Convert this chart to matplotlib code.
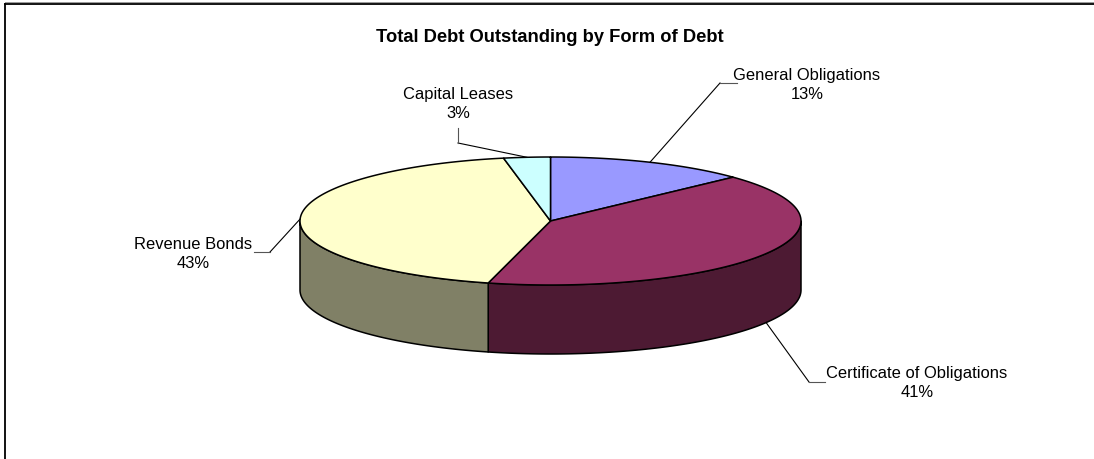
import numpy as np
import matplotlib
matplotlib.use("Agg")
import matplotlib.pyplot as plt
from matplotlib.patches import Polygon

plt.rcParams['font.family'] = ['Liberation Sans', 'DejaVu Sans']

# Debt by form, percent of total
labels = ['General Obligations', 'Certificate of Obligations', 'Revenue Bonds', 'Capital Leases']
shares = [13, 41, 43, 3]
top_colors = ['#9999FF', '#993366', '#FFFFCC', '#CCFFFF']
side_colors = ['#4D4D80', '#4D1A33', '#808066', '#668080']

W, H = 1094, 460
fig = plt.figure(figsize=(W / 100, H / 100), dpi=100)
ax = fig.add_axes([0, 0, 1, 1])
ax.set_xlim(0, W)
ax.set_ylim(H, 0)
ax.axis('off')

# ellipse geometry (pixel space, y grows downward)
cx, cy, a, b, depth = 550.5, 222.0, 250.5, 64.0, 69.0


def rim(t_deg, drop=0.0):
    t = np.radians(t_deg)
    return cx + a * np.cos(t), cy - b * np.sin(t) + drop


# slice boundaries: clockwise from 12 o'clock
cum = np.concatenate([[0], np.cumsum(shares)]) / sum(shares) * 360.0
t_start = 90.0 - cum[:-1]
t_end = 90.0 - cum[1:]

# side walls (only the front half, sin(t) < 0)
for i in range(len(shares)):
    lo, hi = t_end[i], t_start[i]
    # front half corresponds to t in (-180, 0) modulo 360
    for k in (-360, 0):
        s, e = max(lo, -180 + k), min(hi, 0 + k)
        if e <= s:
            continue
        ts = np.linspace(s, e, 120)
        xs, ys = rim(ts)
        xb, yb = rim(ts[::-1], depth)
        pts = np.column_stack([np.concatenate([xs, xb]), np.concatenate([ys, yb])])
        ax.add_patch(Polygon(pts, closed=True, facecolor=side_colors[i],
                             edgecolor='black', linewidth=1.1, joinstyle='round'))

# top faces
for i in range(len(shares)):
    ts = np.linspace(t_start[i], t_end[i], 200)
    xs, ys = rim(ts)
    pts = np.column_stack([np.concatenate([[cx], xs]), np.concatenate([[cy], ys])])
    ax.add_patch(Polygon(pts, closed=True, facecolor=top_colors[i],
                         edgecolor='black', linewidth=1.1, joinstyle='round'))

# labels with leader lines: text centre, elbow point, end of short tail
label_pos = [(807, 85), (917, 383), (193, 254), (458, 104)]
elbows = [((720, 84), (737, 84)), ((809, 383), (825, 383)),
          ((270, 253), (254, 253)), ((458, 144), (458, 129))]

for i in range(len(shares)):
    tm = 90.0 - (cum[i] + cum[i + 1]) / 2
    drop = depth if np.sin(np.radians(tm)) < 0 else 0.0
    ax0, ay0 = rim(tm, drop)
    (ex, ey), (fx, fy) = elbows[i]
    ax.plot([ax0, ex], [ay0, ey], color='black', linewidth=0.8)
    ax.plot([ex, fx], [ey, fy], color='#555555', linewidth=0.8)
    tx, ty = label_pos[i]
    ax.text(tx, ty, f"{labels[i]}\n{shares[i]}%", ha='center', va='center',
            fontsize=11.9, linespacing=1.35, color='black')

ax.text(550, 37, 'Total Debt Outstanding by Form of Debt', ha='center', va='center',
        fontsize=13.2, fontweight='bold')

# chart frame
ax.plot([4.5, W], [4.5, 4.5], color='black', linewidth=1.3, clip_on=False)
ax.plot([4.5, 4.5], [4.5, H], color='black', linewidth=1.3, clip_on=False)
ax.plot([4.5, W], [3.0, 3.0], color='#999999', linewidth=0.7, clip_on=False)

fig.savefig('out.png', dpi=100, facecolor='white')
